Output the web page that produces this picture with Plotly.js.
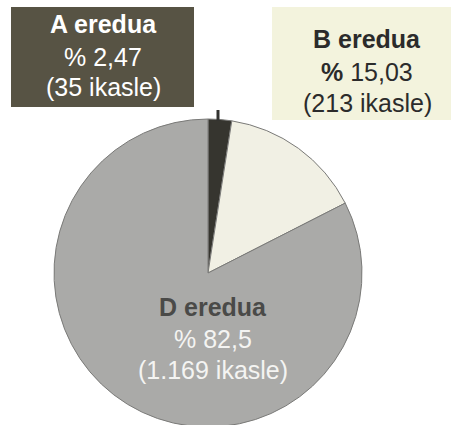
<!DOCTYPE html>
<html>
<head>
<meta charset="utf-8">
<script src="https://cdn.plot.ly/plotly-3.0.1.min.js"></script>
<style>html,body{margin:0;padding:0;overflow:hidden;background:#fff;}</style>
</head>
<body>
<div id="chart"></div>
<script>
// Data
const categories = ["A eredua", "B eredua", "D eredua"];
const students = [35, 213, 1169];
const percentLabels = ["2,47", "15,03", "82,5"];
const studentLabels = ["35", "213", "1.169"];
const sliceColors = ["#36352f", "#f1f0e4", "#aaaaa8"];

const W = 451, H = 430;
const px = x => x / W;
const py = y => 1 - y / H;

const trace = {
  type: "pie",
  labels: categories,
  values: students,
  sort: false,
  direction: "clockwise",
  rotation: 0,
  textinfo: "none",
  hoverinfo: "none",
  marker: { colors: sliceColors, line: { color: "#7a7a78", width: 1 } },
  domain: { x: [px(54), px(362)], y: [py(427), py(119)] }
};

const FONT = "Liberation Sans, Arial, sans-serif";
function line(text, x, y, color, size) {
  return { xref: "paper", yref: "paper", x: px(x), y: py(y), xanchor: "center", yanchor: "middle",
    text: text, showarrow: false, font: { family: FONT, size: size || 25, color: color } };
}

const annotations = [
  line("<b>" + categories[0] + "</b>", 103, 24, "#ffffff"),
  line("% " + percentLabels[0], 103, 57, "#ffffff"),
  line("(" + studentLabels[0] + " ikasle)", 103, 87, "#ffffff"),
  line("<b>" + categories[1] + "</b>", 367, 39, "#2b2b2b"),
  line("<b>%</b> " + percentLabels[1], 367, 72, "#2b2b2b"),
  line("(" + studentLabels[1] + " ikasle)", 367, 103, "#2b2b2b"),
  line("<b>" + categories[2] + "</b>", 213, 307, "#4a4a48"),
  line("% " + percentLabels[2], 213, 339, "#f4f4f2"),
  line("(" + studentLabels[2] + " ikasle)", 213, 370, "#f4f4f2")
];

const shapes = [
  { type: "rect", xref: "paper", yref: "paper", x0: px(11), x1: px(194), y0: py(107), y1: py(7),
    fillcolor: "#575344", line: { width: 0 }, layer: "below" },
  { type: "rect", xref: "paper", yref: "paper", x0: px(272), x1: px(451), y0: py(120), y1: py(7),
    fillcolor: "#f3f3dd", line: { width: 0 }, layer: "below" },
  { type: "line", xref: "paper", yref: "paper", x0: px(218), x1: px(218), y0: py(121), y1: py(110),
    line: { color: "#333330", width: 3 } }
];

const layout = {
  width: W, height: H,
  margin: { l: 0, r: 0, t: 0, b: 0 },
  paper_bgcolor: "#ffffff",
  showlegend: false,
  annotations: annotations,
  shapes: shapes
};

Plotly.newPlot("chart", [trace], layout, { displayModeBar: false, staticPlot: true });
</script>
</body>
</html>
